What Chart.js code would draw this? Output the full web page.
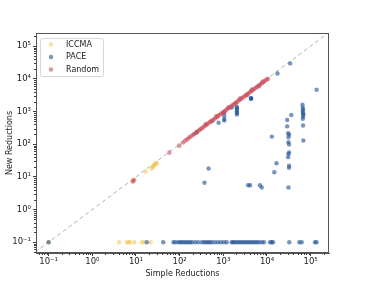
<!DOCTYPE html>
<html>
<head>
<meta charset="utf-8">
<script src="https://cdn.jsdelivr.net/npm/chart.js@4.4.1/dist/chart.umd.min.js"></script>
<style>
  body { margin: 0; background: #fff; }
  canvas { display: block; }
</style>
</head>
<body>
<canvas id="reductionsChart" width="367" height="284"></canvas>
<script>
// series labels (legend order)
const seriesNames = ['ICCMA', 'PACE', 'Random'];

// decade ticks on both axes
const tickValues = [0.1, 1, 10, 100, 1000, 10000, 100000];
const tickLabels = ['10\u207B\u00B9', '10\u2070', '10\u00B9', '10\u00B2', '10\u00B3', '10\u2074', '10\u2075'];

// [simple, new] reductions, 0.1 stands for zero
const iccmaPoints = [
  [0.1, 0.1], [8.7, 8.1], [8.5, 7.5], [16.6, 14.5], [23, 18], [24, 20], [25, 21],
  [26, 23], [28, 24], [30, 25], [29, 27], [320, 295],
  [4.1, 0.1], [6.2, 0.1], [6.8, 0.1], [7.3, 0.1], [9.1, 0.1], [13.5, 0.1], [15.3, 0.1], [21.8, 0.1]
];

const pacePoints = [
  [0.1, 0.1], [34000, 29500], [17400, 14500], [137000, 4600],
  [4300, 2560], [4300, 2450], [4350, 2500],
  [2040, 1380], [2040, 1250], [2050, 1100], [2040, 980], [2060, 900], [2040, 800],
  [1550, 1320], [1050, 930], [1050, 740], [1050, 590], [1050, 525], [780, 450], [245, 230],
  [65000, 1600], [66000, 1300], [67000, 1150], [66000, 1000], [67000, 880], [68000, 800], [67000, 700], [66000, 600], [67000, 370],
  [36000, 780], [29000, 550], [29000, 350], [30500, 215], [32000, 195], [31000, 162],
  [31000, 115], [32000, 98], [12900, 170], [68000, 129],
  [32000, 56], [31000, 50], [30500, 40], [32000, 22], [32000, 19], [16500, 26], [14700, 13.8],
  [31000, 4.7], [4100, 5.5], [3700, 5.5], [6900, 5.5], [7600, 4.7], [460, 18], [370, 6.6],
  [17.7, 0.1], [42, 0.1], [72, 0.1], [79, 0.1], [92, 0.1], [102, 0.1], [113, 0.1], [126, 0.1],
  [140, 0.1], [156, 0.1], [173, 0.1], [192, 0.1], [225, 0.1], [264, 0.1], [320, 0.1], [361, 0.1],
  [402, 0.1], [447, 0.1], [496, 0.1], [551, 0.1], [646, 0.1], [757, 0.1], [886, 0.1], [1037, 0.1],
  [1196, 0.1], [1557, 0.1], [1667, 0.1], [1852, 0.1], [2059, 0.1], [2286, 0.1], [2543, 0.1],
  [2825, 0.1], [3139, 0.1], [3486, 0.1], [3873, 0.1], [4305, 0.1], [4786, 0.1], [5311, 0.1],
  [5902, 0.1], [6561, 0.1], [7568, 0.1], [8531, 0.1], [11720, 0.1], [12820, 0.1], [13710, 0.1],
  [32360, 0.1], [54800, 0.1], [62230, 0.1], [125300, 0.1], [137000, 0.1]
];

const randomPoints = [
  [8.5, 7.2], [9, 8], [58, 55], [98, 90], [120, 112], [135, 130], [150, 140], [165, 160],
  [180, 170], [200, 190], [215, 205], [235, 220], [255, 245], [280, 265], [300, 290], [330, 310],
  [360, 345], [390, 375], [420, 400], [460, 440], [500, 480], [540, 520], [590, 560], [640, 610],
  [700, 670], [760, 720], [820, 790], [900, 860], [980, 930], [1060, 1010], [1150, 1100],
  [1250, 1190], [1360, 1300], [1480, 1410], [1600, 1530], [1750, 1660], [1900, 1810],
  [2050, 1960], [2230, 2130], [2420, 2310], [2630, 2510], [2850, 2720], [3100, 2960],
  [3370, 3220], [3650, 3490], [3970, 3800], [4300, 4110], [4680, 4480], [5080, 4860],
  [5520, 5280], [6000, 5740], [6500, 6220], [7050, 6750], [7650, 7330], [8300, 7950],
  [9000, 8620], [9800, 9380], [10500, 10000],
  [400, 410], [700, 720], [1300, 1340], [2400, 2480], [4500, 4650], [8000, 8200],
  [550, 500], [1000, 900], [1900, 1720], [3500, 3150], [6500, 5900]
];

const diagonal = [[0.02, 0.02], [500000, 500000]];

const toXY = (arr) => arr.map(p => ({ x: p[0], y: p[1] }));

// matplotlib-ish frame + minor ticks + legend inside the axes
const framePlugin = {
  id: 'frame',
  afterDatasetsDraw(chart) {
    const { ctx, chartArea: a, scales } = chart;
    ctx.save();
    ctx.strokeStyle = '#3a3a3a';
    ctx.lineWidth = 1;
    // minor ticks
    for (let k = -2; k <= 5; k++) {
      for (let m = 2; m <= 9; m++) {
        const v = m * Math.pow(10, k);
        const px = scales.x.getPixelForValue(v);
        if (px > a.left && px < a.right) {
          ctx.beginPath();
          ctx.moveTo(Math.round(px) + 0.5, a.bottom);
          ctx.lineTo(Math.round(px) + 0.5, a.bottom + 2);
          ctx.stroke();
        }
        const py = scales.y.getPixelForValue(v);
        if (py > a.top && py < a.bottom) {
          ctx.beginPath();
          ctx.moveTo(a.left, Math.round(py) + 0.5);
          ctx.lineTo(a.left - 2, Math.round(py) + 0.5);
          ctx.stroke();
        }
      }
    }
    ctx.strokeStyle = '#555';
    ctx.strokeRect(a.left + 0.5, a.top + 0.5, a.right - a.left - 1, a.bottom - a.top - 1);
    ctx.restore();
  },
  afterDraw(chart) {
    const { ctx, chartArea: a } = chart;
    const x0 = a.left + 4, y0 = a.top + 5, w = 63, h = 38;
    ctx.save();
    ctx.fillStyle = 'rgba(255,255,255,0.85)';
    ctx.strokeStyle = '#d6d6d6';
    ctx.lineWidth = 1;
    ctx.beginPath();
    ctx.roundRect(x0 + 0.5, y0 + 0.5, w, h, 2);
    ctx.fill();
    ctx.stroke();
    ctx.font = '8px "DejaVu Sans"';
    ctx.textBaseline = 'middle';
    seriesNames.forEach((name, i) => {
      const ds = chart.data.datasets[i];
      const cy = y0 + 6.5 + i * 12.5;
      ctx.fillStyle = ds.backgroundColor;
      ctx.beginPath();
      ctx.arc(x0 + 11, cy, 2.2, 0, Math.PI * 2);
      ctx.fill();
      ctx.fillStyle = '#222';
      ctx.fillText(name, x0 + 26, cy);
    });
    ctx.restore();
  }
};

const decadeTicks = (scale) => {
  scale.ticks = tickValues.map(v => ({ value: v }));
};

new Chart(document.getElementById('reductionsChart'), {
  type: 'scatter',
  data: {
    datasets: [
      {
        label: seriesNames[0],
        data: toXY(iccmaPoints),
        backgroundColor: 'rgba(242, 196, 80, 0.55)',
        pointRadius: 2.2,
        borderWidth: 0,
        order: 3
      },
      {
        label: seriesNames[1],
        data: toXY(pacePoints),
        backgroundColor: 'rgba(28, 78, 145, 0.6)',
        pointRadius: 2.2,
        borderWidth: 0,
        order: 2
      },
      {
        label: seriesNames[2],
        data: toXY(randomPoints),
        backgroundColor: 'rgba(200, 80, 95, 0.6)',
        pointRadius: 2.3,
        borderWidth: 0,
        order: 1
      },
      {
        type: 'line',
        label: 'y = x',
        data: toXY(diagonal),
        borderColor: 'rgba(150, 150, 150, 0.75)',
        borderWidth: 1,
        borderDash: [4, 3],
        pointRadius: 0,
        order: 4
      }
    ]
  },
  options: {
    responsive: false,
    animation: false,
    layout: { padding: { top: 33, right: 38, left: 0, bottom: 0 } },
    plugins: {
      legend: { display: false },
      tooltip: { enabled: false }
    },
    scales: {
      x: {
        type: 'logarithmic',
        min: Math.pow(10, -1.29),
        max: Math.pow(10, 5.42),
        afterBuildTicks: decadeTicks,
        afterFit: (s) => { s.height = 31; },
        grid: { drawOnChartArea: false, tickLength: 3, color: '#3a3a3a' },
        border: { color: '#555' },
        ticks: {
          padding: 1,
          color: '#222',
          font: { family: 'DejaVu Sans', size: 8.5 },
          maxRotation: 0,
          callback: (v) => tickLabels[tickValues.indexOf(v)] || ''
        },
        title: {
          display: true,
          text: 'Simple Reductions',
          color: '#222',
          font: { family: 'DejaVu Sans', size: 8 },
          padding: { top: 0, bottom: 5 }
        }
      },
      y: {
        type: 'logarithmic',
        min: Math.pow(10, -1.33),
        max: Math.pow(10, 5.4),
        afterBuildTicks: decadeTicks,
        afterFit: (s) => { s.width = 36; },
        grid: { drawOnChartArea: false, tickLength: 3, color: '#3a3a3a' },
        border: { color: '#555' },
        ticks: {
          padding: 2,
          color: '#222',
          font: { family: 'DejaVu Sans', size: 8.5 },
          callback: (v) => tickLabels[tickValues.indexOf(v)] || ''
        },
        title: {
          display: true,
          text: 'New Reductions',
          color: '#222',
          font: { family: 'DejaVu Sans', size: 8 },
          padding: { top: 5, bottom: 0 }
        }
      }
    }
  },
  plugins: [framePlugin]
});
</script>
</body>
</html>
